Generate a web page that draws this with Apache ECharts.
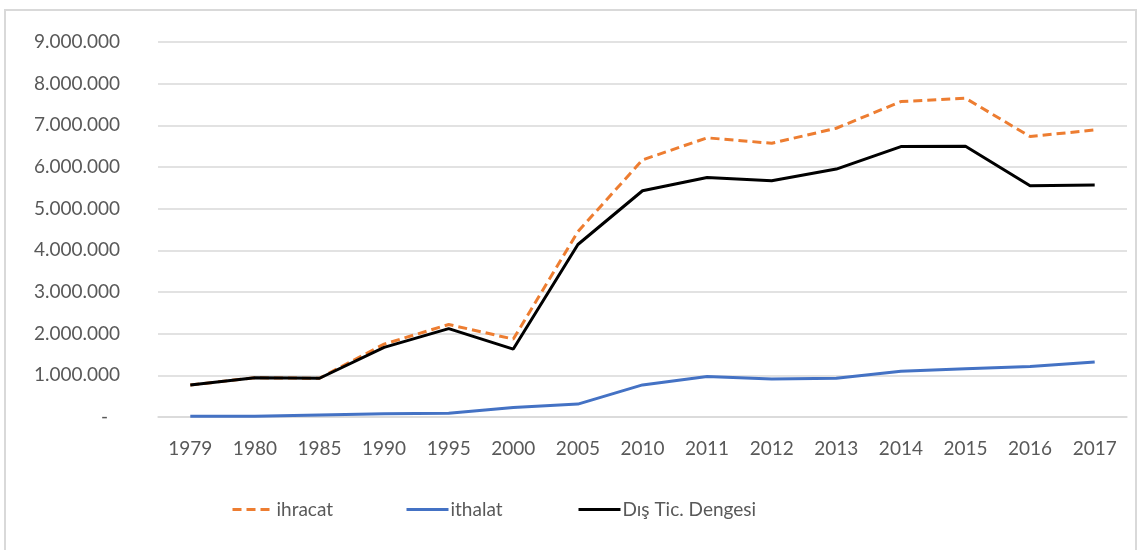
<!DOCTYPE html>
<html>
<head>
<meta charset="utf-8">
<script src="https://cdn.jsdelivr.net/npm/echarts@6/dist/echarts.min.js"></script>
<style>
    html, body { margin: 0; padding: 0; background: #fff; }
    #chart { width: 1138px; height: 550px; }
</style>
</head>
<body>
<div id="chart"></div>
<script>
    'use strict';

    var years = ['1979', '1980', '1985', '1990', '1995', '2000', '2005', '2010',
        '2011', '2012', '2013', '2014', '2015', '2016', '2017'];

    var ihracat = [770000, 940000, 930000, 1750000, 2220000, 1870000, 4450000, 6170000,
        6700000, 6570000, 6930000, 7570000, 7650000, 6730000, 6890000];
    var ithalat = [20000, 20000, 50000, 80000, 90000, 230000, 310000, 770000,
        970000, 910000, 930000, 1100000, 1160000, 1210000, 1320000];
    var disTicDengesi = [770000, 940000, 930000, 1670000, 2120000, 1630000, 4140000, 5430000,
        5750000, 5670000, 5950000, 6490000, 6500000, 5550000, 5570000];

    var yMax = 9000000;
    var yStep = 1000000;

    var textColor = '#595959';
    var gridColor = '#d9d9d9';
    var fontName = 'Lato';

    function trNumber(v) {
        if (v === 0) {
            return '{dash|-}';
        }
        return String(v).replace(/\B(?=(\d{3})+(?!\d))/g, '.');
    }

    var chart = echarts.init(document.getElementById('chart'));

    function legendAt(name, x) {
        return {
            data: [name],
            left: x,
            top: 495,
            itemWidth: 42,
            itemHeight: 14,
            itemGap: 0,
            itemStyle: { opacity: 0 },
            lineStyle: { width: 3 },
            textStyle: { color: textColor, fontFamily: fontName, fontSize: 19, padding: [0, 0, 0, -3] }
        };
    }

    var option = {
        animation: false,
        backgroundColor: '#fff',
        graphic: [{
            type: 'rect',
            shape: { x: 5, y: 10, width: 1131, height: 560 },
            style: { fill: 'none', stroke: gridColor, lineWidth: 2 },
            silent: true
        }],
        legend: [
            legendAt('ihracat', 226),
            legendAt('ithalat', 400),
            legendAt('Dış Tic. Dengesi', 572)
        ],
        grid: { left: 158, right: 11, top: 42, bottom: 133 },
        xAxis: {
            type: 'category',
            data: years,
            boundaryGap: true,
            axisLine: { show: true, lineStyle: { color: gridColor, width: 1.5 } },
            axisTick: { show: false },
            axisLabel: { color: textColor, fontFamily: fontName, fontSize: 19, margin: 22 }
        },
        yAxis: {
            type: 'value',
            min: 0,
            max: yMax,
            interval: yStep,
            axisLine: { show: false },
            axisTick: { show: false },
            splitLine: { lineStyle: { color: gridColor, width: 1.5 } },
            axisLabel: {
                color: textColor,
                fontFamily: fontName,
                fontSize: 19,
                margin: 38,
                formatter: trNumber,
                rich: { dash: { color: textColor, fontFamily: fontName, fontSize: 19, padding: [0, 12, 0, 0] } }
            }
        },
        series: [{
            name: 'ihracat',
            type: 'line',
            data: ihracat,
            symbol: 'none',
            z: 3,
            itemStyle: { color: '#ed7d31' },
            lineStyle: { color: '#ed7d31', width: 3, type: [9, 5] }
        }, {
            name: 'ithalat',
            type: 'line',
            data: ithalat,
            symbol: 'none',
            z: 3,
            itemStyle: { color: '#4472c4' },
            lineStyle: { color: '#4472c4', width: 3 }
        }, {
            name: 'Dış Tic. Dengesi',
            type: 'line',
            data: disTicDengesi,
            symbol: 'none',
            z: 4,
            itemStyle: { color: '#000' },
            lineStyle: { color: '#000', width: 3 }
        }]
    };

    chart.setOption(option);
</script>
</body>
</html>
